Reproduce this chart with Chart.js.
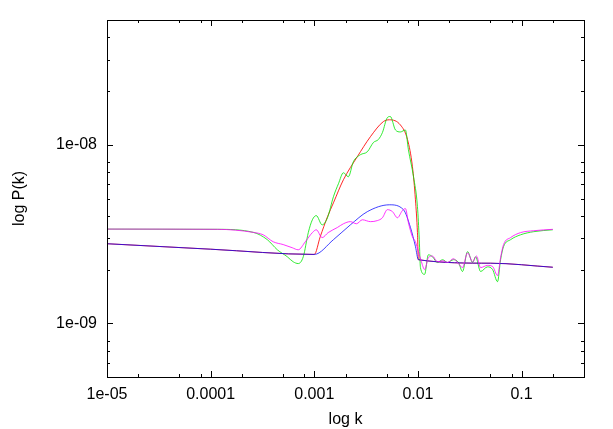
<!DOCTYPE html>
<html>
<head>
<meta charset="utf-8">
<script src="https://cdn.jsdelivr.net/npm/chart.js@4"></script>
<style>
  body { margin: 0; background: #fff; }
  #box { width: 613px; height: 429px; }
</style>
</head>
<body>
<div id="box"><canvas id="grafico" width="613" height="429"></canvas></div>
<script>
// axis ticks
const xTicks = [1e-5, 1e-4, 1e-3, 1e-2, 1e-1];
const xTickLabels = ['1e-05', '0.0001', '0.001', '0.01', '0.1'];
const xMinor = [2e-5, 5e-5, 8e-5, 2e-4, 5e-4, 8e-4, 2e-3, 5e-3, 8e-3, 2e-2, 5e-2, 8e-2, 2e-1];
const yTicks = [1e-9, 1e-8];
const yTickLabels = ['1e-09', '1e-08'];
const yMinor = [6e-10, 7e-10, 8e-10, 2e-9, 3e-9, 4e-9, 5e-9, 6e-9, 7e-9, 8e-9, 2e-8, 3e-8, 4e-8];

// red: model with the big bump
const redK = [1e-5, 1e-4, 1e-3, 1.14e-3, 1.34e-3, 1.53e-3, 1.91e-3, 2.6e-3, 3.48e-3, 4.65e-3, 5.31e-3, 6.78e-3, 7.93e-3, 8.85e-3, 9.46e-3, 9.89e-3, 1.01e-2, 0.05, 0.2];
const redP = [2.79e-9, 2.6e-9, 2.43e-9, 3.05e-9, 3.95e-9, 4.73e-9, 6.37e-9, 8.57e-9, 1.11e-8, 1.35e-8, 1.38e-8, 1.29e-8, 1.07e-8, 7.53e-9, 4.92e-9, 3.22e-9, 2.27e-9, 2.17e-9, 2.06e-9];

// blue: model with the small bump
const blueK = [1e-5, 1e-4, 1e-3, 1.53e-3, 2.23e-3, 3.25e-3, 5.31e-3, 7.24e-3, 8.47e-3, 9.46e-3, 1.01e-2, 0.05, 0.2];
const blueP = [2.79e-9, 2.6e-9, 2.43e-9, 2.94e-9, 3.56e-9, 4.22e-9, 4.61e-9, 4.33e-9, 3.44e-9, 2.69e-9, 2.27e-9, 2.17e-9, 2.06e-9];

// green: measured, big bump
const greenK = [1e-5, 1.16e-4, 2.58e-4, 3.52e-4, 4.4e-4, 5.48e-4, 6.26e-4, 7.0e-4, 7.83e-4, 8.75e-4, 9.58e-4, 1.045e-3, 1.19e-3, 1.34e-3, 1.53e-3, 1.71e-3, 1.91e-3, 2.13e-3, 2.38e-3, 2.78e-3, 3.25e-3, 3.72e-3, 4.15e-3, 4.54e-3, 5.07e-3, 5.41e-3, 6.07e-3, 6.78e-3, 7.57e-3, 8.09e-3, 9.06e-3, 9.89e-3, 1.03e-2, 1.057e-2, 1.16e-2, 1.26e-2, 1.38e-2, 1.54e-2, 1.73e-2, 1.93e-2, 2.2e-2, 2.46e-2, 2.69e-2, 3.01e-2, 3.37e-2, 3.6e-2, 4.02e-2, 4.69e-2, 5.25e-2, 5.86e-2, 6.27e-2, 6.7e-2, 7.83e-2, 9.77e-2, 0.131, 0.2];
const greenP = [3.37e-9, 3.36e-9, 3.23e-9, 2.94e-9, 2.58e-9, 2.36e-9, 2.21e-9, 2.16e-9, 2.36e-9, 3.22e-9, 3.8e-9, 4.01e-9, 3.56e-9, 3.9e-9, 5.12e-9, 6.05e-9, 6.97e-9, 6.62e-9, 8.03e-9, 8.79e-9, 9.14e-9, 1.03e-8, 1.07e-8, 1.17e-8, 1.42e-8, 1.44e-8, 1.21e-8, 1.18e-8, 1.21e-8, 9.38e-9, 6.62e-9, 4.5e-9, 2.94e-9, 2.05e-9, 1.88e-9, 2.42e-9, 2.36e-9, 2.19e-9, 2.27e-9, 2.19e-9, 2.27e-9, 2.19e-9, 1.95e-9, 2.52e-9, 2.19e-9, 2.36e-9, 1.95e-9, 2.07e-9, 2.0e-9, 1.71e-9, 2.27e-9, 2.69e-9, 2.94e-9, 3.13e-9, 3.26e-9, 3.34e-9];

// magenta: measured, small bump
const magK = [1e-5, 1.16e-4, 2.58e-4, 3.21e-4, 4.02e-4, 5.01e-4, 6.12e-4, 7.0e-4, 8.18e-4, 9.58e-4, 1.045e-3, 1.19e-3, 1.36e-3, 1.67e-3, 1.91e-3, 2.23e-3, 2.55e-3, 2.91e-3, 3.48e-3, 4.06e-3, 4.54e-3, 5.07e-3, 5.68e-3, 6.34e-3, 7.08e-3, 7.57e-3, 8.09e-3, 8.85e-3, 9.46e-3, 1.01e-2, 1.08e-2, 1.16e-2, 1.26e-2, 1.38e-2, 1.54e-2, 1.73e-2, 1.93e-2, 2.2e-2, 2.46e-2, 2.69e-2, 3.01e-2, 3.37e-2, 3.67e-2, 4.02e-2, 4.69e-2, 5.25e-2, 5.86e-2, 6.27e-2, 6.7e-2, 7.83e-2, 9.77e-2, 0.131, 0.2];
const magP = [3.37e-9, 3.36e-9, 3.23e-9, 3.13e-9, 2.86e-9, 2.76e-9, 2.65e-9, 2.58e-9, 2.86e-9, 3.22e-9, 3.34e-9, 3.02e-9, 3.22e-9, 3.44e-9, 3.61e-9, 3.71e-9, 3.61e-9, 3.8e-9, 3.71e-9, 3.76e-9, 3.9e-9, 4.33e-9, 4.22e-9, 3.9e-9, 4.28e-9, 4.39e-9, 3.66e-9, 3.05e-9, 2.86e-9, 2.52e-9, 2.21e-9, 2.0e-9, 2.33e-9, 2.38e-9, 2.21e-9, 2.24e-9, 2.19e-9, 2.3e-9, 2.16e-9, 2.05e-9, 2.48e-9, 2.21e-9, 2.38e-9, 2.05e-9, 2.11e-9, 2.08e-9, 1.85e-9, 2.33e-9, 2.76e-9, 3.02e-9, 3.22e-9, 3.3e-9, 3.36e-9];

function pontos(ks, ps) {
    var out = [];
    for (var i = 0; i < ks.length; i++) {
        out.push({ x: ks[i], y: ps[i] });
    }
    return out;
}

function serie(ks, ps, cor) {
    return {
        data: pontos(ks, ps),
        borderColor: cor,
        borderWidth: 1,
        pointRadius: 0,
        fill: false,
        cubicInterpolationMode: 'monotone'
    };
}

// frame + inward ticks on all four sides, like gnuplot
const moldura = {
    id: 'moldura',
    afterDraw(chart) {
        const ctx = chart.ctx;
        const a = chart.chartArea;
        const sx = chart.scales.x;
        const sy = chart.scales.y;
        ctx.save();
        ctx.strokeStyle = '#000';
        ctx.lineWidth = 1;
        ctx.beginPath();
        function xt(v, len) {
            var p = Math.round(sx.getPixelForValue(v)) + 0.5;
            ctx.moveTo(p, a.bottom); ctx.lineTo(p, a.bottom - len);
            ctx.moveTo(p, a.top); ctx.lineTo(p, a.top + len);
        }
        function yt(v, len) {
            var p = Math.round(sy.getPixelForValue(v)) + 0.5;
            ctx.moveTo(a.left, p); ctx.lineTo(a.left + len, p);
            ctx.moveTo(a.right, p); ctx.lineTo(a.right - len, p);
        }
        xTicks.forEach(v => xt(v, 6));
        xMinor.forEach(v => xt(v, 3));
        yTicks.forEach(v => yt(v, 6));
        yMinor.forEach(v => yt(v, 3));
        ctx.stroke();
        ctx.strokeRect(Math.round(a.left) + 0.5, Math.round(a.top) + 0.5,
            Math.round(a.right - a.left), Math.round(a.bottom - a.top));
        ctx.restore();
    }
};

const fonte = { family: '"Liberation Sans", Arial, sans-serif', size: 16 };

const config = {
    type: 'line',
    data: {
        datasets: [
            serie(magK, magP, 'rgba(255, 0, 255, 0.8)'),
            serie(blueK, blueP, 'rgba(0, 0, 255, 0.75)'),
            serie(greenK, greenP, 'rgba(0, 230, 0, 0.8)'),
            serie(redK, redP, 'rgba(255, 0, 0, 0.85)')
        ]
    },
    options: {
        responsive: false,
        animation: false,
        layout: { padding: { left: 0, top: 20, right: 29, bottom: 0 } },
        plugins: { legend: { display: false }, tooltip: { enabled: false } },
        scales: {
            x: {
                type: 'logarithmic',
                min: 1e-5,
                max: 0.4,
                grid: { display: false, drawTicks: false, tickLength: 0 },
                border: { display: false },
                afterBuildTicks: s => { s.ticks = xTicks.map(v => ({ value: v })); },
                afterFit: s => { s.height = 52; },
                ticks: {
                    autoSkip: false,
                    maxRotation: 0,
                    padding: 8,
                    color: '#000',
                    font: fonte,
                    callback: (v) => xTickLabels[xTicks.indexOf(v)]
                },
                title: { display: true, text: 'log k', color: '#000', font: fonte, padding: { top: 0, bottom: 0 } }
            },
            y: {
                type: 'logarithmic',
                min: 5e-10,
                max: 5e-8,
                grid: { display: false, drawTicks: false, tickLength: 0 },
                border: { display: false },
                afterBuildTicks: s => { s.ticks = yTicks.map(v => ({ value: v })); },
                afterFit: s => { s.width = 107; },
                ticks: {
                    autoSkip: false,
                    padding: 10,
                    color: '#000',
                    font: fonte,
                    callback: (v) => yTickLabels[yTicks.indexOf(v)]
                },
                title: { display: true, text: 'log P(k)', color: '#000', font: fonte, padding: { top: 10, bottom: 0 } }
            }
        }
    },
    plugins: [moldura]
};

const myChart = new Chart(document.getElementById('grafico'), config);
</script>
</body>
</html>
